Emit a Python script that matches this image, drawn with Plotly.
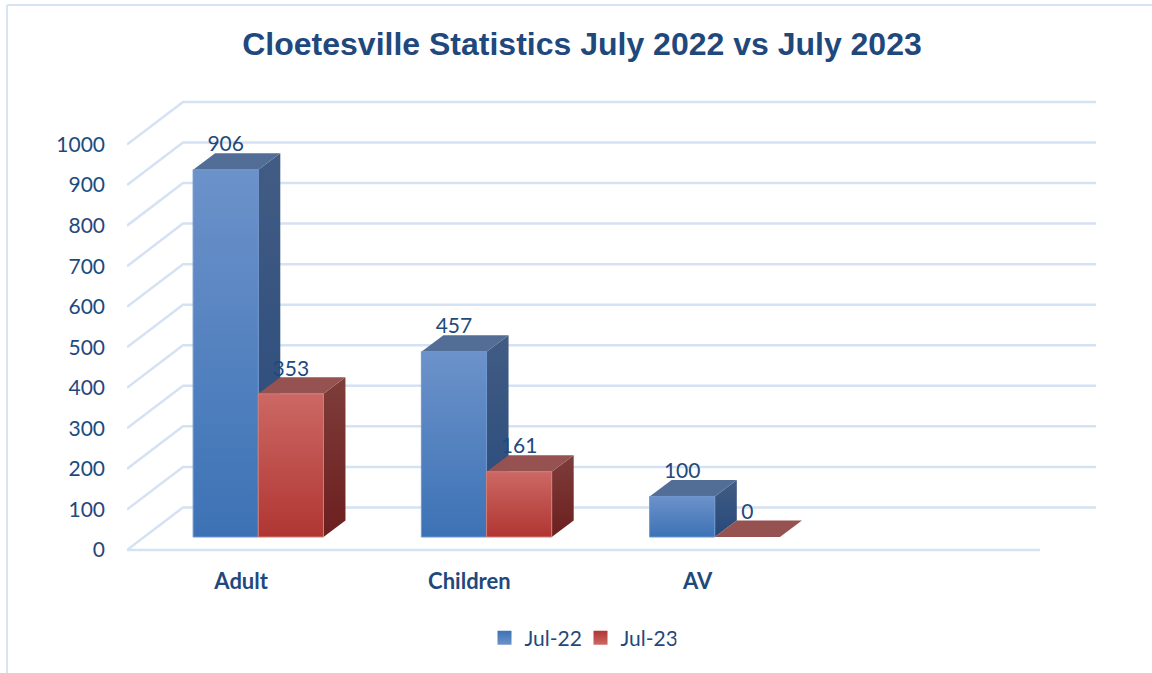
import plotly.graph_objects as go

# Chart data
categories = ["Adult", "Children", "AV"]
jul_22 = [906, 457, 100]
jul_23 = [353, 161, 0]
tick_values = [0, 100, 200, 300, 400, 500, 600, 700, 800, 900, 1000]

WIDTH, HEIGHT = 1152, 673
M_L, M_R, M_T, M_B = 127, 51, 97, 118

# Oblique projection used for the pseudo-3D look (x in category slots, y in value units)
WALL_DX, WALL_DY = 0.2453, 105.0
BAR_DX, BAR_DY = 0.0964, 40.7
FLOOR_LIFT = 32.1
BAR_W = 0.2855
GROUP_LEFT = -0.2103
SLOTS = 4
LABEL_GAP = 58
AXIS_PAD_X, AXIS_PAD_Y = 0.0219, 12.3

GRID = "#D5E2F4"
INK = "#1F497D"
SERIES = [
    dict(name="Jul-22", values=jul_22, front=("#6C92CA", "#3C72B5"),
         side=("#425C84", "#26497A"), top="#526E96", edge="#6F96CE"),
    dict(name="Jul-23", values=jul_23, front=("#CC6864", "#B03632"),
         side=("#7E3D3A", "#6C1F1F"), top="#965250", edge="#CF7F7B"),
]


def vertical(top, bottom):
    # Position 0 of a fill gradient is the lower edge of the shape
    return dict(type="vertical", colorscale=[[0, bottom], [1, top]])


def poly(xs, ys, **style):
    return go.Scatter(x=xs + xs[:1], y=ys + ys[:1], mode="lines", fill="toself",
                      hoverinfo="skip", showlegend=False, cliponaxis=False,
                      line=dict(width=style.pop("edge_w", 0), color=style.pop("edge", "rgba(0,0,0,0)")),
                      **style)


fig = go.Figure()

# Back wall, side wall and floor rules
for v in tick_values:
    xs = [-0.5, -0.5 + WALL_DX, SLOTS - 0.5 + WALL_DX]
    ys = [v, v + WALL_DY, v + WALL_DY]
    if v == 0:
        xs = [SLOTS - 0.5] + [-0.5] + xs[1:]
        ys = [0, 0] + ys[1:]
    fig.add_trace(go.Scatter(x=xs, y=ys, mode="lines", hoverinfo="skip", showlegend=False,
                             cliponaxis=False, line=dict(color=GRID, width=2.5)))

# Cuboids: each series sits beside the previous one in its slot
for s_idx, s in enumerate(SERIES):
    for i, v in enumerate(s["values"]):
        x0 = i + GROUP_LEFT + s_idx * BAR_W
        x1 = x0 + BAR_W
        y0 = FLOOR_LIFT
        y1 = y0 + v
        if v > 0:
            fig.add_trace(poly([x1, x1 + BAR_DX, x1 + BAR_DX, x1],
                               [y0, y0 + BAR_DY, y1 + BAR_DY, y1],
                               fillgradient=vertical(*s["side"])))
        fig.add_trace(poly([x0, x1, x1 + BAR_DX, x0 + BAR_DX],
                           [y1, y1, y1 + BAR_DY, y1 + BAR_DY],
                           fillcolor=s["top"]))
        if v > 0:
            fig.add_trace(poly([x0, x1, x1, x0], [y0, y0, y1, y1],
                               fillgradient=vertical(*s["front"]),
                               edge=s["edge"], edge_w=1))

# Value labels
for s_idx, s in enumerate(SERIES):
    fig.add_trace(go.Scatter(
        x=[i + GROUP_LEFT + (s_idx + 0.5) * BAR_W for i in range(len(categories))],
        y=[FLOOR_LIFT + v + LABEL_GAP for v in s["values"]],
        text=[str(v) for v in s["values"]],
        mode="text", textposition="middle center", hoverinfo="skip", showlegend=False,
        cliponaxis=False, textfont=dict(family="Lato", size=21, color=INK)))

# Legend keys
for s in SERIES:
    fig.add_trace(go.Scatter(
        x=[None], y=[None], mode="markers", name=s["name"],
        marker=dict(symbol="square", size=14, color=s["front"][1],
                    gradient=dict(type="vertical", color=s["front"][0]))))


def paper_x(px):
    return (px - M_L) / (WIDTH - M_L - M_R)


def paper_y(py):
    return (HEIGHT - M_B - py) / (HEIGHT - M_T - M_B)


# Chart frame: only the left and top edges are visible
frame = dict(color="#D6E4F4", width=2)
shapes = [
    dict(type="line", xref="paper", yref="paper", x0=paper_x(7), x1=paper_x(7),
         y0=paper_y(5), y1=paper_y(HEIGHT), line=frame),
    dict(type="line", xref="paper", yref="paper", x0=paper_x(7), x1=paper_x(WIDTH),
         y0=paper_y(5), y1=paper_y(5), line=frame),
]

fig.update_layout(
    width=WIDTH, height=HEIGHT, autosize=False,
    margin=dict(l=M_L, r=M_R, t=M_T, b=M_B, pad=0),
    paper_bgcolor="white", plot_bgcolor="rgba(0,0,0,0)",
    shapes=shapes,
    title=dict(text="<b>Cloetesville Statistics July 2022 vs July 2023</b>",
               x=582 / WIDTH, xanchor="center", xref="container",
               y=1 - 44 / HEIGHT, yanchor="middle", yref="container",
               font=dict(family="Liberation Sans", size=32, color=INK)),
    xaxis=dict(range=[-0.5, SLOTS - 0.5 + WALL_DX + AXIS_PAD_X], tickmode="array",
               tickvals=list(range(len(categories))), ticktext=[f"<b>{c}</b>" for c in categories],
               showgrid=False, zeroline=False, showline=False, ticks="",
               ticklabelstandoff=11, fixedrange=True,
               tickfont=dict(family="Lato", size=22, color=INK)),
    yaxis=dict(range=[-AXIS_PAD_Y, 1000 + WALL_DY + AXIS_PAD_Y], tickmode="array", tickvals=tick_values,
               showgrid=False, zeroline=False, showline=False, ticks="",
               ticklabelstandoff=21, fixedrange=True,
               tickfont=dict(family="Lato", size=21, color=INK)),
    showlegend=True,
    legend=dict(orientation="h", x=paper_x(484.5), xanchor="left",
                y=paper_y(638), yanchor="middle", entrywidth=51, entrywidthmode="pixels",
                font=dict(family="Lato", size=21, color=INK), bgcolor="rgba(0,0,0,0)"),
)

fig.write_html("out.html")
